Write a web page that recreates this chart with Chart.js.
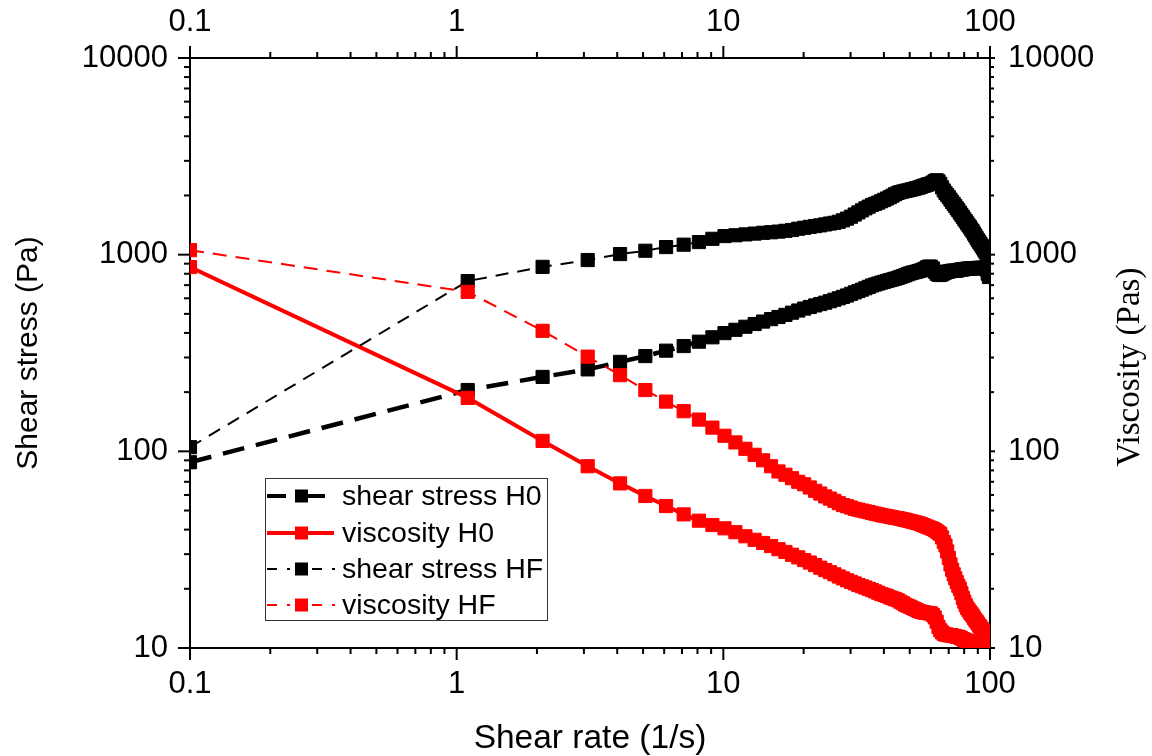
<!DOCTYPE html>
<html><head><meta charset="utf-8">
<script src="https://cdn.jsdelivr.net/npm/chart.js@4.4.1/dist/chart.umd.min.js"></script>
<style>html,body{margin:0;padding:0;background:#fff;}canvas{display:block;}</style>
</head><body>
<canvas id="c" width="1152" height="756"></canvas>
<script>
// ---- data ----
const shearRate = [0.1,1.1,2.1,3.1,4.1,5.1,6.1,7.1,8.1,9.1,10.1,11.1,12.1,13.1,14.1,15.1,16.1,17.1,18.1,19.1,
20.1,21.1,22.1,23.1,24.1,25.1,26.1,27.1,28.1,29.1,30.1,31.1,32.1,33.1,34.1,35.1,36.1,37.1,38.1,39.1,
40.1,41.1,42.1,43.1,44.1,45.1,46.1,47.1,48.1,49.1,50.1,51.1,52.1,53.1,54.1,55.1,56.1,57.1,58.1,59.1,
60.1,61.1,62.1,63.1,64.1,65.1,66.1,67.1,68.1,69.1,70.1,71.1,72.1,73.1,74.1,75.1,76.1,77.1,78.1,79.1,
80.1,81.1,82.1,83.1,84.1,85.1,86.1,87.1,88.1,89.1,90.1,91.1,92.1,93.1,94.1,95.1,96.1,97.1,98.1,99.1];

const shearStressH0 = [88,205,239,261,285,305,325,343,361,380,399,415,430,444,457,470,482,494,507,520,
532,542,552,561,570,580,590,600,610,620,632,643,653,664,675,686,697,705,713,721,
728,735,742,748,755,762,770,778,786,795,803,810,815,820,826,832,840,850,862,870,
868,850,820,800,790,788,795,805,812,818,822,825,828,830,828,830,835,838,840,842,
845,846,848,850,849,851,853,852,854,855,856,855,857,858,856,857,855,840,800,770];

const viscosityH0 = [865,187,113,84,68.7,59.3,52.7,47.8,44.4,42.2,40.6,38.8,37.0,35.5,34.2,33.0,31.8,30.8,29.8,28.9,
28.0,27.2,26.4,25.6,24.9,24.3,23.7,23.1,22.6,22.1,21.7,21.3,20.9,20.6,20.3,20.0,19.7,19.4,19.1,18.8,
18.6,18.4,18.1,17.9,17.7,17.5,17.2,16.9,16.6,16.4,16.2,16.0,15.8,15.6,15.4,15.3,15.2,15.1,15.1,15.0,
15.0,14.7,14.3,13.6,12.8,12.3,12.0,11.8,11.7,11.7,11.6,11.6,11.6,11.5,11.5,11.4,11.4,11.3,11.2,11.1,
11.0,10.9,10.9,10.8,10.8,10.7,10.6,10.6,10.5,10.5,10.4,10.4,10.4,10.3,10.3,10.2,10.2,10.1,10.1,10.0];

const shearStressHF = [105,734,867,939,1007,1047,1093,1124,1159,1204,1243,1255,1268,1280,1292,1300,1310,1322,1335,1355,
1370,1385,1398,1410,1425,1440,1452,1470,1495,1525,1560,1600,1640,1680,1720,1755,1790,1815,1840,1870,
1900,1930,1960,1995,2030,2060,2080,2095,2110,2120,2135,2150,2165,2180,2195,2215,2235,2250,2270,2285,
2300,2330,2370,2390,2360,2290,2200,2120,2060,2010,1960,1905,1855,1810,1765,1720,1680,1635,1595,1555,
1515,1480,1445,1410,1380,1345,1315,1280,1250,1215,1185,1160,1135,1110,1085,1060,1035,1010,985,955];

const viscosityHF = [1054,647,410,303,244,205,179,160,145,132,120,111,103,96,90,84,79,76,73,70,
68,65.5,63,61,59,57.5,56,54.5,53.3,52.6,51.8,51.0,50.5,50.0,49.5,49.1,48.6,48.2,47.8,47.4,
47.1,46.8,46.5,46.2,45.9,45.7,45.4,45.1,44.8,44.5,44.2,43.9,43.6,43.3,43.0,42.6,42.2,41.8,41.4,41.0,
40.7,40.3,39.8,39.2,38.6,38.0,36.5,34.6,33.2,31.0,28.7,26.6,25.0,23.7,22.6,21.6,20.7,20.0,19.0,18.0,
17.2,16.5,16.0,15.6,15.2,14.9,14.6,14.2,13.9,13.6,13.3,13.0,12.8,12.5,12.2,11.8,11.5,11.2,10.8,10.5];

const seriesLabels = ['shear stress H0','viscosity H0','shear stress HF','viscosity HF'];
const xMajorTicks = [0.1, 1, 10, 100];
const yMajorTicks = [10, 100, 1000, 10000];
const minorMultipliers = [2,3,4,5,6,7,8,9];

// ---- styling ----
const SANS = "'Liberation Sans', Arial, Helvetica, sans-serif";
const SERIF = "'Liberation Serif', 'Times New Roman', serif";
const RED = '#ff0000', BLACK = '#000000';

function pts(ys){ return shearRate.map((x,i)=>({x:x, y:ys[i]})); }

function mkDataset(label, ys, color, width, dash, yAxis, order){
  return {label, data: pts(ys), xAxisID:'x', yAxisID:yAxis,
    borderColor:color, backgroundColor:color, borderWidth:width, borderDash:dash,
    pointStyle:'rect', pointRadius:9.3, pointBorderWidth:1,
    pointBackgroundColor:color, pointBorderColor:color,
    pointHoverRadius:9.3, tension:0, fill:false, order, clip:0};
}

const datasets = [
  mkDataset(seriesLabels[0], shearStressH0, BLACK, 4.5, [22,12], 'y', 4),
  mkDataset(seriesLabels[1], viscosityH0, RED, 4, [], 'y2', 3),
  mkDataset(seriesLabels[2], shearStressHF, BLACK, 2, [13,9], 'y', 2),
  mkDataset(seriesLabels[3], viscosityHF, RED, 2, [14,9], 'y2', 1)
];

function majorSetter(list){ return (s)=>{ s.ticks = list.map(v=>({value:v, major:true})); }; }
const tickFont = {family:SANS, size:31};

function logAxis(pos, min, max, majors, pad, fitSize){
  const horiz = (pos==='top'||pos==='bottom');
  return {
    type:'logarithmic', position:pos, min, max,
    afterBuildTicks: majorSetter(majors),
    ticks:{callback:(v)=>String(v), font:tickFont, color:'#000', padding:pad, autoSkip:false, maxRotation:0, minRotation:0},
    grid:{display:false, drawTicks:true, tickLength:12},
    border:{display:true, color:'#000', width:2},
    afterFit:(s)=>{ if(horiz) s.height = fitSize; else s.width = fitSize; }
  };
}

const scales = {
  x: logAxis('bottom', 0.1, 100, xMajorTicks, 6, 108),
  x2: logAxis('top', 0.1, 100, xMajorTicks, 5, 58),
  y: logAxis('left', 10, 10000, yMajorTicks, 10, 190),
  y2: logAxis('right', 10, 10000, yMajorTicks, 6, 162)
};
scales.x.title = {display:true, text:'Shear rate (1/s)', color:'#000', font:{family:SANS, size:33.5, lineHeight:1}, padding:{top:0, bottom:0}};
scales.y.title = {display:true, text:'Shear stress (Pa)', color:'#000', font:{family:SANS, size:30, lineHeight:1}, padding:{top:14, bottom:0}};

// tick marks (major outward 12px, minor outward 6px), positioned by the scales
const tickLens = {x:[12,6], x2:[12,6], y:[12,6], y2:[5,4]};
function minorValues(majors){
  const out = [];
  for (let i=0;i<majors.length-1;i++) for (const m of minorMultipliers) out.push(majors[i]*m);
  return out;
}
const tickPlugin = {
  id:'tickMarks',
  afterDraw(chart){
    const ctx = chart.ctx, ca = chart.chartArea;
    ctx.save(); ctx.strokeStyle='#000'; ctx.lineWidth=2;
    for (const id of ['x','x2','y','y2']){
      const s = chart.scales[id];
      const majors = (id[0]==='x') ? xMajorTicks : yMajorTicks;
      const sets = [[majors, tickLens[id][0]], [minorValues(majors), tickLens[id][1]]];
      for (const [vals, len] of sets){
        for (const v of vals){
          const p = s.getPixelForValue(v);
          ctx.beginPath();
          if (id==='x'){ ctx.moveTo(p, ca.bottom); ctx.lineTo(p, ca.bottom+len); }
          else if (id==='x2'){ ctx.moveTo(p, ca.top); ctx.lineTo(p, ca.top-len); }
          else if (id==='y'){ ctx.moveTo(ca.left, p); ctx.lineTo(ca.left-len, p); }
          else { ctx.moveTo(ca.right, p); ctx.lineTo(ca.right+len, p); }
          ctx.stroke();
        }
      }
    }
    ctx.restore();
  }
};

// right axis title (reads bottom-to-top, serif)
const rightTitlePlugin = {
  id:'rightTitle',
  afterDraw(chart){
    const ctx = chart.ctx;
    ctx.save();
    ctx.translate(1139, 367);
    ctx.rotate(-Math.PI/2);
    ctx.font = '33px ' + SERIF;
    ctx.fillStyle = '#000';
    ctx.textAlign = 'center';
    ctx.textBaseline = 'alphabetic';
    ctx.fillText('Viscosity (Pas)', 0, 0);
    ctx.restore();
  }
};

// legend box
const legendSegs = [
  [[267,286],[308,325]],
  [[267,334]],
  [[267,277],[287,290],[312,322],[332,335]],
  [[267,277],[287,290],[312,322],[332,335]]
];
const legendWidths = [4,4,2,2];
const legendRows = [496,533,569,605];
const legendPlugin = {
  id:'boxLegend',
  afterDraw(chart){
    const ctx = chart.ctx;
    ctx.save();
    ctx.fillStyle='#fff';
    ctx.fillRect(265,478,282,142);
    ctx.strokeStyle='#333'; ctx.lineWidth=1;
    ctx.strokeRect(265.5,478.5,282,142);
    chart.data.datasets.forEach((ds,i)=>{
      const y = legendRows[i];
      ctx.strokeStyle = ds.borderColor; ctx.lineWidth = legendWidths[i]; ctx.setLineDash([]);
      for (const [a,b] of legendSegs[i]){ ctx.beginPath(); ctx.moveTo(a,y); ctx.lineTo(b,y); ctx.stroke(); }
      ctx.fillStyle = ds.borderColor;
      ctx.fillRect(295, y-6.5, 13, 13);
      ctx.fillStyle = '#000';
      ctx.font = '28.5px ' + SANS;
      ctx.textAlign = 'left'; ctx.textBaseline = 'middle';
      ctx.fillText(ds.label, 342, y+1);
    });
    ctx.restore();
  }
};

new Chart(document.getElementById('c'), {
  type:'line',
  data:{datasets},
  options:{
    responsive:false, animation:false, devicePixelRatio:1,
    layout:{padding:0},
    plugins:{legend:{display:false}, tooltip:{enabled:false}},
    scales
  },
  plugins:[tickPlugin, rightTitlePlugin, legendPlugin]
});
</script>
</body></html>
